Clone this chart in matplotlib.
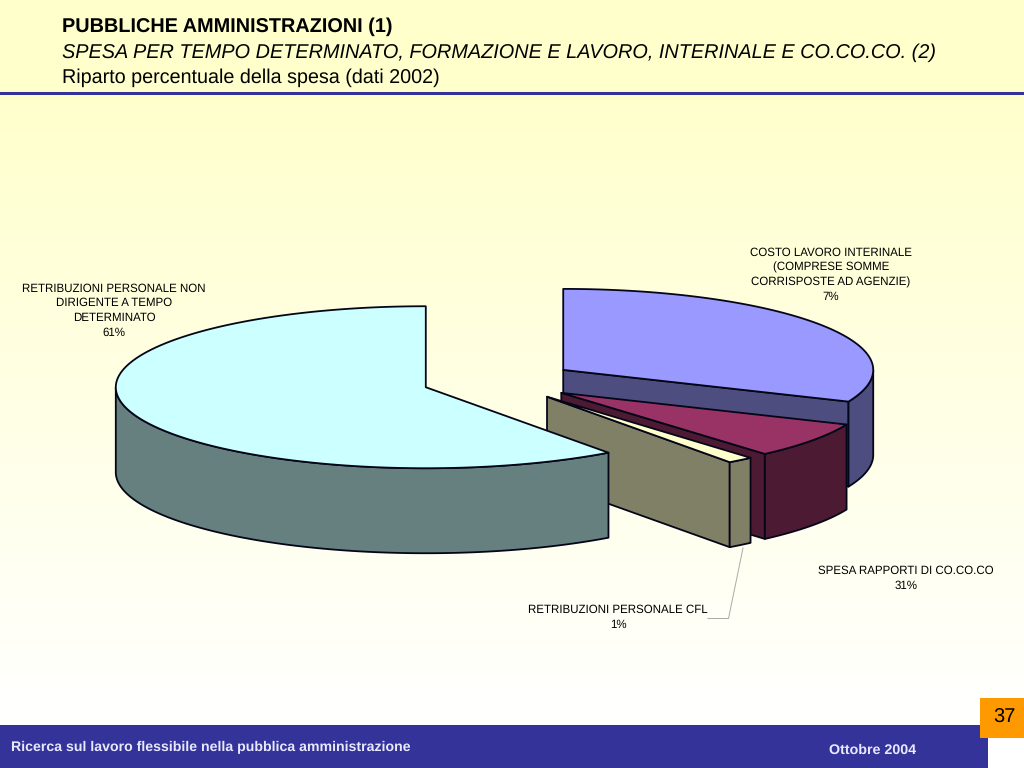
import matplotlib
matplotlib.use("Agg")
import matplotlib.pyplot as plt
import numpy as np

# shares measured on the drawn slices, clockwise from twelve o'clock
slice_shares = [31.4, 7.2, 1.37, 60.03]
top_colors = ["#9999FF", "#993366", "#FFFFCC", "#CCFFFF"]
side_colors = ["#4D4D80", "#4D1A33", "#808066", "#668080"]

slice_labels = [
    "SPESA RAPPORTI DI CO.CO.CO\n31%",
    "COSTO LAVORO INTERINALE\n(COMPRESE SOMME\nCORRISPOSTE AD AGENZIE)\n7%",
    "RETRIBUZIONI PERSONALE CFL\n1%",
    "RETRIBUZIONI PERSONALE NON\nDIRIGENTE A TEMPO\nDETERMINATO\n61%",
]
label_x = [906, 831, 618, 114]
label_y = [578.5, 275, 617.5, 310.5]

title_lines = [
    "PUBBLICHE AMMINISTRAZIONI (1)",
    "SPESA PER TEMPO DETERMINATO, FORMAZIONE E LAVORO, INTERINALE E CO.CO.CO. (2)",
    "Riparto percentuale della spesa (dati 2002)",
]
footer_left = "Ricerca sul lavoro flessibile nella pubblica amministrazione"
footer_right = "Ottobre 2004"
page_number = "37"

# pie geometry in pixels
cx, cy = 499, 381
rx, ry = 310, 81
depth = 85
explode = 77
edge = "#050518"

plt.rcParams["font.family"] = ["Liberation Sans", "DejaVu Sans"]
plt.rcParams["text.hinting"] = "no_hinting"

fig = plt.figure(figsize=(10.24, 7.68), dpi=100)
ax = fig.add_axes([0, 0, 1, 1])
ax.axis("off")

# background: flat header, then yellow fading to white
grad = np.linspace(0, 1, 256).reshape(-1, 1)
ax.imshow(grad, extent=[0, 1024, 725, 92], aspect="auto", zorder=0,
          cmap=matplotlib.colors.LinearSegmentedColormap.from_list("bg", ["#FFFFCC", "#FFFFFF"]))
ax.set_xlim(0, 1024)
ax.set_ylim(768, 0)
ax.fill_between([0, 1024], 0, 92, color="#FFFFCC", lw=0, zorder=0)
ax.fill_between([0, 1024], 92, 95, color="#333399", lw=0, zorder=1)
ax.fill_between([0, 988], 725, 768, color="#333399", lw=0, zorder=1)
ax.fill_between([980, 1024], 698, 738, color="#FF9900", lw=0, zorder=2)


def point(ox, oy, ang):
    return ox + rx * np.sin(ang), oy - ry * np.cos(ang)


def face(xs, ys, color):
    ax.fill(xs, ys, facecolor=color, edgecolor=edge, lw=1.3, joinstyle="round", zorder=5)


ends = np.cumsum(slice_shares) / np.sum(slice_shares) * 2 * np.pi
starts = np.concatenate([[0], ends[:-1]])

# painter's order: back slices first, the shares run clockwise from the back
for a0, a1, top, side in zip(starts, ends, top_colors, side_colors):
    mid = (a0 + a1) / 2
    ox = cx + explode * np.sin(mid)
    oy = cy - explode * ry / rx * np.cos(mid)
    arc = np.linspace(a0, a1, 200)
    ax_, ay_ = point(ox, oy, arc)

    # flat cut face, only when it turns towards the viewer
    if np.cos(a1 + np.pi / 2) < 0.2 and a1 < np.pi * 1.5:
        ex, ey = point(ox, oy, a1)
        face([ox, ex, ex, ox], [oy, ey, ey + depth, oy + depth], side)

    # outer wall, lower half of the ellipse only
    vis = arc[(arc > np.pi / 2) & (arc < 3 * np.pi / 2)]
    if len(vis):
        wx, wy = point(ox, oy, vis)
        face(np.r_[wx, wx[::-1]], np.r_[wy, wy[::-1] + depth], side)

    face(np.r_[ox, ax_], np.r_[oy, ay_], top)

# leader line for the 1% label
ax.plot([743, 728.5, 708], [548, 618.5, 618.5], color="#AAAAAA", lw=0.7, zorder=6)

for txt, x, y in zip(slice_labels, label_x, label_y):
    ax.text(x, y, txt, ha="center", va="center", fontsize=8.3, linespacing=1.41,
            color="black", zorder=7)

ax.text(62, 27, title_lines[0], fontsize=14.27, fontweight="bold", va="center", color="black", zorder=7)
ax.text(62, 52.5, title_lines[1], fontsize=14.33, fontstyle="italic", va="center", color="black", zorder=7)
ax.text(62, 77.5, title_lines[2], fontsize=14.24, va="center", color="black", zorder=7)

ax.text(11, 747, footer_left, fontsize=10.18, fontweight="bold", va="center", color="#E8E8FF", zorder=7)
ax.text(829, 750, footer_right, fontsize=10.3, fontweight="bold", va="center", color="#E8E8FF", zorder=7)
ax.text(1004, 717.5, page_number, fontsize=14.5, ha="center", va="center", color="black", zorder=7)

fig.savefig("out.png", dpi=100)
